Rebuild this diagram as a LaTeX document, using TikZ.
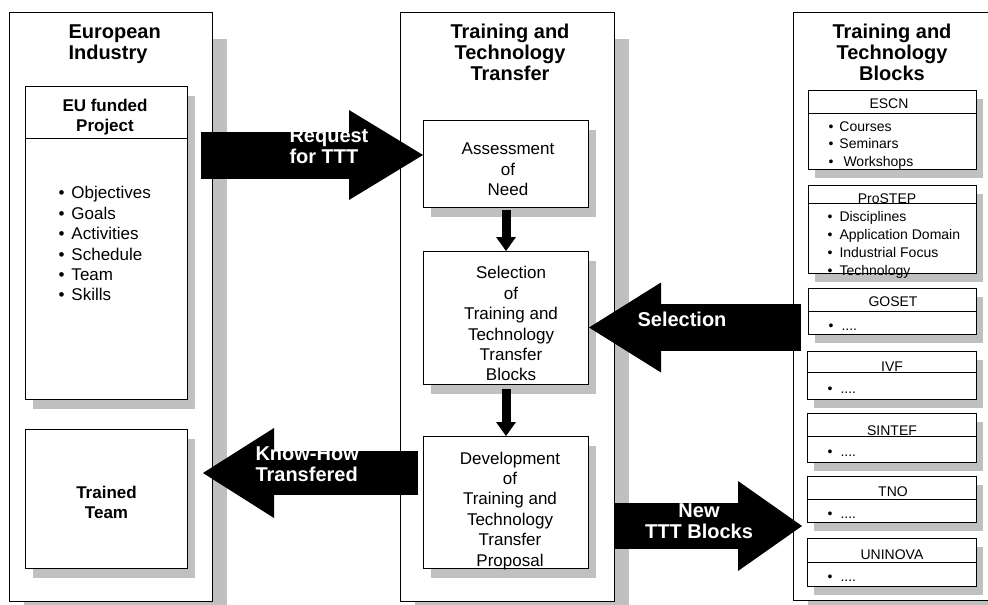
\documentclass[tikz,border=0pt]{standalone}
\usepackage{fontspec}
\setmainfont{Liberation Sans}
\usetikzlibrary{arrows.meta,shadows}
\definecolor{shadowgray}{RGB}{192,192,192}
\newcommand{\itemdot}[1][13pt]{\makebox[#1][l]{\textbullet}}

\begin{document}
\begin{tikzpicture}
      [x = 1pt, y = -1pt,
      line width = 1pt,
      panel/.style = {
         draw,
         fill = white,
         anchor = north west,
         inner sep = 0pt,
         drop shadow = {shadow xshift = 14pt, shadow yshift = -26pt,
            fill = shadowgray, opacity = 1}
      },
      block/.style = {
         draw,
         fill = white,
         anchor = north west,
         inner sep = 0pt,
         drop shadow = {shadow xshift = 7pt, shadow yshift = -9pt,
            fill = shadowgray, opacity = 1}
      },
      tttbox/.style = {
         draw,
         fill = white,
         anchor = north west,
         inner sep = 0pt,
         drop shadow = {shadow xshift = 6pt, shadow yshift = -8pt,
            fill = shadowgray, opacity = 1}
      },
      heading/.style = {font = \bfseries\fontsize{20}{21}\selectfont,
         align = center, inner sep = 0pt},
      boldtext/.style = {font = \bfseries\fontsize{17}{20}\selectfont,
         align = center, inner sep = 0pt},
      boxtext/.style = {font = \fontsize{17}{20.4}\selectfont,
         align = center, inner sep = 0pt},
      smalltext/.style = {font = \fontsize{14}{17.8}\selectfont,
         align = left, inner sep = 0pt},
      flowtext/.style = {heading, text = white},
      stepflow/.style = {line width = 9pt,
         -{Triangle[width = 20pt, length = 14pt, line width = 0pt]}},
      fatflow/.style = {line width = 46pt,
         -{Triangle[width = 90pt, length = #1, line width = 0pt]}},
      fatflow/.default = 72pt]

      \useasboundingbox (0, 0) rectangle (988, 605);

      % the three columns
      \node[panel, minimum width = 203pt, minimum height = 589pt] (industry) at (9, 12) {};
      \node[panel, minimum width = 214pt, minimum height = 589pt] (transfer) at (400, 12) {};
      \node[panel, minimum width = 215pt, minimum height = 588pt] (blocks) at (793, 12) {};

      \node[heading, anchor = west, align = left] (industry title) at (68, 43.8) {European\\Industry};
      \node[heading] (transfer title) at (510, 52.2) {Training and\\Technology\\Transfer};
      \node[heading] (blocks title) at (892, 52.2) {Training and\\Technology\\Blocks};

      % european industry
      \node[block, minimum width = 162pt, minimum height = 313pt] (project) at (25, 86) {};
      \draw (project.north west) ++(0, 52) -- ++(162, 0);
      \node[boldtext] (project title) at (105, 116.8) {EU funded\\Project};
      \node[boxtext, anchor = west, align = left] (project items) at (58, 243.8)
         {\itemdot Objectives\\\itemdot Goals\\\itemdot Activities\\
          \itemdot Schedule\\\itemdot Team\\\itemdot Skills};

      \node[block, minimum width = 162pt, minimum height = 139pt] (team) at (25, 429) {};
      \node[boldtext] (team title) at (106.5, 502.8) {Trained\\Team};

      % training and technology transfer
      \node[block, minimum width = 165pt, minimum height = 87pt] (need) at (423, 120) {};
      \node[boxtext] (need text) at (508, 169.5) {Assessment\\of\\Need};

      \node[block, minimum width = 165pt, minimum height = 133pt] (choice) at (423, 251) {};
      \node[boxtext] (choice text) at (511, 323.8)
         {Selection\\of\\Training and\\Technology\\Transfer\\Blocks};

      \node[block, minimum width = 165pt, minimum height = 132pt] (proposal) at (423, 436) {};
      \node[boxtext] (proposal text) at (510, 510.6)
         {Development\\of\\Training and\\Technology\\Transfer\\Proposal};

      \draw[stepflow, shorten <= 2pt] (need.south) -- (choice.north);
      \draw[stepflow, shorten <= 4pt] (choice.south) -- (proposal.north);

      % training and technology blocks
      \node[tttbox, minimum width = 168pt, minimum height = 79pt] (escn) at (808, 90) {};
      \draw (escn.north west) ++(0, 23) -- ++(168, 0);
      \node[smalltext, anchor = base] (escn title) at (889, 108.5) {ESCN};
      \node[smalltext, anchor = west] (escn items) at (828, 145.5)
         {\itemdot[11pt]Courses\\\itemdot[11pt]Seminars\\\itemdot[11pt]\hspace{4pt}Workshops};

      \node[tttbox, minimum width = 168pt, minimum height = 88pt] (prostep) at (808, 185) {};
      \draw (prostep.north west) ++(0, 18) -- ++(168, 0);
      \node[smalltext, anchor = base] (prostep title) at (887, 203) {ProSTEP};
      \node[smalltext, anchor = west] (prostep items) at (827, 245)
         {\itemdot[12pt]Disciplines\\\itemdot[12pt]Application Domain\\
          \itemdot[12pt]Industrial Focus\\\itemdot[12pt]Technology};

      \node[tttbox, minimum width = 168pt, minimum height = 46pt] (goset) at (808, 288) {};
      \draw (goset.north west) ++(0, 23) -- ++(168, 0);
      \node[smalltext, anchor = base] (goset title) at (893, 306.7) {GOSET};
      \node[smalltext, anchor = base west] (goset items) at (828, 330) {\itemdot....};

      \node[tttbox, minimum width = 169pt, minimum height = 48pt] (ivf) at (807, 351) {};
      \draw (ivf.north west) ++(0, 21) -- ++(169, 0);
      \node[smalltext, anchor = base] (ivf title) at (892, 371) {IVF};
      \node[smalltext, anchor = base west] (ivf items) at (827, 393) {\itemdot....};

      \node[tttbox, minimum width = 169pt, minimum height = 49pt] (sintef) at (807, 413) {};
      \draw (sintef.north west) ++(0, 23) -- ++(169, 0);
      \node[smalltext, anchor = base] (sintef title) at (892, 435) {SINTEF};
      \node[smalltext, anchor = base west] (sintef items) at (827, 456) {\itemdot....};

      \node[tttbox, minimum width = 169pt, minimum height = 46pt] (tno) at (807, 476) {};
      \draw (tno.north west) ++(0, 23) -- ++(169, 0);
      \node[smalltext, anchor = base] (tno title) at (893, 496) {TNO};
      \node[smalltext, anchor = base west] (tno items) at (827, 518) {\itemdot....};

      \node[tttbox, minimum width = 169pt, minimum height = 48pt] (uninova) at (807, 538) {};
      \draw (uninova.north west) ++(0, 24) -- ++(169, 0);
      \node[smalltext, anchor = base] (uninova title) at (892, 559) {UNINOVA};
      \node[smalltext, anchor = base west] (uninova items) at (827, 581.7) {\itemdot....};

      % block arrows
      \coordinate (request start) at (201, 155);
      \draw[fatflow = 74pt, line width = 47pt] (request start) -- (request start -| need.west);
      \node[flowtext, anchor = west, align = left] (request label) at (289, 146) {Request\\for TTT};

      \coordinate (selection start) at (801, 327.5);
      \draw[fatflow, line width = 47pt] (selection start) -- (selection start -| choice.east);
      \node[flowtext, anchor = base] (selection label) at (682, 326.7) {Selection};

      \coordinate (knowhow start) at (418, 473);
      \coordinate (knowhow end) at (203, 473);
      \draw[fatflow = 71pt, line width = 44pt] (knowhow start) -- (knowhow end);
      \node[flowtext, anchor = west, align = left] (knowhow label) at (255, 464.7) {Know-How\\Transfered};

      \coordinate (newblocks end) at (802, 526);
      \draw[fatflow = 64pt] (newblocks end -| transfer.east) -- (newblocks end);
      \node[flowtext] (newblocks label) at (699, 521) {New\\TTT Blocks};

\end{tikzpicture}
\end{document}
